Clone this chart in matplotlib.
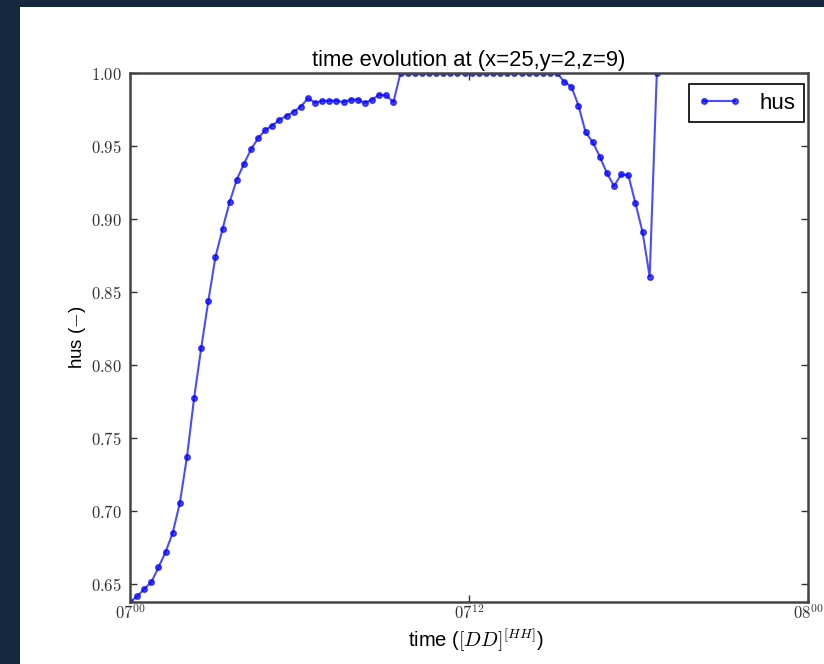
import numpy as np
import matplotlib
matplotlib.use("Agg")
import matplotlib.pyplot as plt
from matplotlib.patches import Rectangle
from matplotlib.ticker import FuncFormatter

# hus at (x=25,y=2,z=9), one value roughly every 15 min from 07 00h
hus = [
    0.6377, 0.6415, 0.6466, 0.6513, 0.6614, 0.6720, 0.6850, 0.7055, 0.7370, 0.7772,
    0.8116, 0.8438, 0.8740, 0.8932, 0.9116, 0.9270, 0.9377, 0.9477, 0.9553, 0.9610,
    0.9640, 0.9680, 0.9706, 0.9735, 0.9770, 0.9827, 0.9797, 0.9809, 0.9810, 0.9810,
    0.9800, 0.9818, 0.9818, 0.9795, 0.9818, 0.9850, 0.9847, 0.9800,
    1.0, 1.0, 1.0, 1.0, 1.0, 1.0, 1.0, 1.0, 1.0, 1.0, 1.0, 1.0,
    1.0, 1.0, 1.0, 1.0, 1.0, 1.0, 1.0, 1.0, 1.0, 1.0, 1.0,
    0.9940, 0.9907, 0.9777, 0.9594, 0.9527, 0.9427, 0.9313, 0.9226, 0.9306, 0.9300,
    0.9108, 0.8910, 0.8605, 1.0,
]
step_h = 0.252  # spacing
hours = np.arange(len(hus)) * step_h

xtick_pos = [0, 12, 24]
xtick_lab = [r"$07^{00}$", r"$07^{12}$", r"$08^{00}$"]
ytick_pos = [0.65, 0.70, 0.75, 0.80, 0.85, 0.90, 0.95, 1.00]

plt.rcParams["mathtext.fontset"] = "cm"
plt.rcParams["font.family"] = "Liberation Sans"

W, H = 824, 664
fig = plt.figure(figsize=(W / 100, H / 100), dpi=100, facecolor="#14293f")
bg = Rectangle((20 / W, 0), 1, 1 - 7 / H, transform=fig.transFigure,
               facecolor="white", edgecolor="none", zorder=-10)
fig.add_artist(bg)

ax = fig.add_axes([130 / W, 1 - 602 / H, 678 / W, 529 / H])
ax.set_zorder(1)
ax.plot(hours, hus, "-o", color="b", lw=1.5, ms=4, mec="b", alpha=0.7, label="hus")

ax.set_xlim(0, 24)
ax.set_ylim(min(hus), 1.0)
ax.set_xticks(xtick_pos)
ax.set_xticklabels(xtick_lab)
ax.set_yticks(ytick_pos)
ax.yaxis.set_major_formatter(FuncFormatter(lambda v, p: f"${v:.2f}$"))
ax.tick_params(direction="in", length=5, width=1, top=True, right=True,
               labelsize=12, colors="#333333")
ax.tick_params(axis="y", pad=6)
ax.tick_params(axis="x", pad=1)
for s in ax.spines.values():
    s.set_linewidth(1.8)
    s.set_color("#444444")

ax.set_title("time evolution at (x=25,y=2,z=9)", fontsize=15.8, pad=5)
ax.set_xlabel(r"time ($[DD]^{[HH]}$)", fontsize=14.5, labelpad=2)
ax.xaxis.set_label_coords(0.51, -0.045)
ax.set_ylabel(r"hus ($-$)", fontsize=13.5, labelpad=2)

leg = ax.legend(loc="upper right", bbox_to_anchor=(0.994, 0.979), borderaxespad=0,
                prop={"size": 16}, numpoints=2, fancybox=False, framealpha=1,
                handlelength=2.0, borderpad=0.38)
leg.get_frame().set_edgecolor("black")
leg.get_frame().set_linewidth(1.2)

fig.savefig("out.png", dpi=100, facecolor=fig.get_facecolor())
